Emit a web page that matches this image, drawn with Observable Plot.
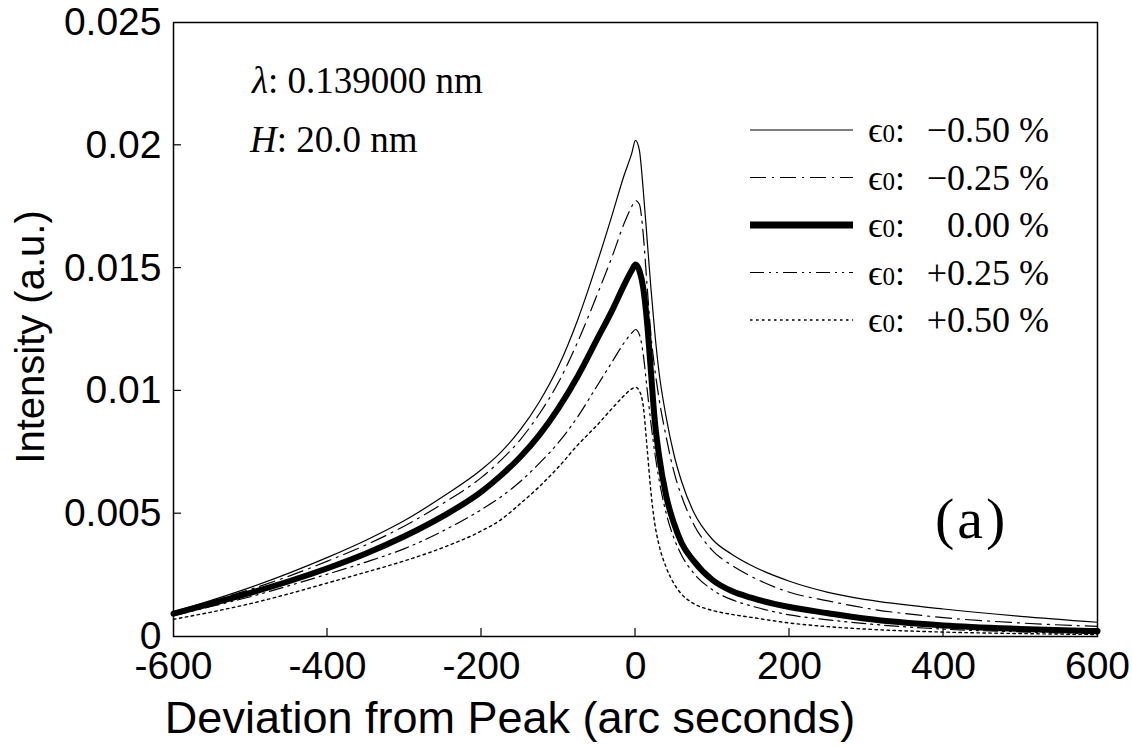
<!DOCTYPE html>
<html><head><meta charset="utf-8">
<script src="https://cdn.jsdelivr.net/npm/d3@7"></script>
<script src="https://cdn.jsdelivr.net/npm/@observablehq/plot@0.6"></script>
<style>body{margin:0;background:#fff} svg{display:block}</style>
</head><body><div id="chart"></div>
<script>
// Deviation from peak (arc seconds)
const deviation = [-600,-550,-500,-450,-400,-350,-300,-250,-200,-175,-150,-125,-100,-75,-50,-30,-15,-5,0,5,10,15,20,25,30,40,50,60,75,100,125,150,200,250,300,400,500,600];
// Intensity (a.u.) for each strain ε0
const strainM050 = [0.00100,0.00148,0.00200,0.00258,0.00322,0.00392,0.00472,0.00570,0.00680,0.00750,0.00840,0.00955,0.01100,0.01290,0.01520,0.01720,0.01876,0.01966,0.02020,0.01980,0.01820,0.01620,0.01420,0.01240,0.01090,0.00890,0.00740,0.00630,0.00510,0.00395,0.00335,0.00290,0.00225,0.00180,0.00150,0.00112,0.00082,0.00058];
const strainM025 = [0.00098,0.00144,0.00192,0.00246,0.00307,0.00373,0.00450,0.00542,0.00648,0.00717,0.00800,0.00906,0.01035,0.01200,0.01390,0.01550,0.01680,0.01750,0.01775,0.01760,0.01640,0.01430,0.01230,0.01090,0.00980,0.00810,0.00670,0.00570,0.00460,0.00350,0.00290,0.00245,0.00180,0.00145,0.00115,0.00077,0.00055,0.00041];
const strainP000 = [0.00093,0.00135,0.00178,0.00225,0.00278,0.00338,0.00408,0.00490,0.00590,0.00655,0.00730,0.00820,0.00930,0.01060,0.01210,0.01330,0.01430,0.01490,0.01515,0.01490,0.01420,0.01280,0.01080,0.00880,0.00750,0.00570,0.00460,0.00380,0.00310,0.00230,0.00185,0.00158,0.00120,0.00095,0.00072,0.00045,0.00031,0.00022];
const strainP025 = [0.00085,0.00123,0.00162,0.00207,0.00254,0.00303,0.00358,0.00430,0.00517,0.00568,0.00630,0.00705,0.00790,0.00895,0.01020,0.01120,0.01195,0.01235,0.01250,0.01230,0.01150,0.01010,0.00870,0.00750,0.00650,0.00500,0.00400,0.00330,0.00260,0.00190,0.00150,0.00125,0.00088,0.00068,0.00052,0.00030,0.00019,0.00012];
const strainP050 = [0.00070,0.00100,0.00134,0.00174,0.00218,0.00262,0.00308,0.00362,0.00430,0.00475,0.00540,0.00610,0.00690,0.00780,0.00860,0.00930,0.00980,0.01008,0.01015,0.01000,0.00940,0.00770,0.00590,0.00460,0.00380,0.00280,0.00215,0.00172,0.00135,0.00106,0.00090,0.00078,0.00055,0.00040,0.00030,0.00018,0.00012,0.00008];

const seriesNames = ["−0.50", "−0.25", "0.00", "+0.25", "+0.50"];
const seriesValues = [strainM050, strainM025, strainP000, strainP025, strainP050];
const xTicks = [-600, -400, -200, 0, 200, 400, 600];
const xTickLabels = ["-600", "-400", "-200", "0", "200", "400", "600"];
const yTicks = [0, 0.005, 0.01, 0.015, 0.02, 0.025];
const yTickLabels = ["0", "0.005", "0.01", "0.015", "0.02", "0.025"];
const xTitle = "Deviation from Peak (arc seconds)";
const yTitle = "Intensity (a.u.)";

const lineStyles = [
  {strokeWidth: 1.2, strokeDasharray: null},
  {strokeWidth: 1.2, strokeDasharray: "16,6,2,6"},
  {strokeWidth: 6, strokeDasharray: null},
  {strokeWidth: 1.2, strokeDasharray: "14,5,2,5,2,5"},
  {strokeWidth: 1.4, strokeDasharray: "2.5,3.5"}
];

const rows = seriesNames.flatMap((s, i) => deviation.map((x, j) => ({x, y: seriesValues[i][j], s})));

const W = 1132, H = 747;
const sans = "'Liberation Sans', Arial, Helvetica, sans-serif";
const serif = "'Liberation Serif', 'Times New Roman', Times, serif";

const plot = Plot.plot({
  width: W, height: H,
  marginLeft: 173, marginRight: 35, marginTop: 22, marginBottom: 111,
  style: {fontFamily: sans, fontSize: "39px", color: "black", background: "white"},
  x: {domain: [-600, 600]},
  y: {domain: [0, 0.025]},
  marks: [
    ...seriesNames.map((s, i) => Plot.line(rows.filter(d => d.s === s), {
      x: "x", y: "y", stroke: "black", curve: "monotone-x",
      strokeWidth: lineStyles[i].strokeWidth,
      strokeDasharray: lineStyles[i].strokeDasharray
    })),
    Plot.frame({stroke: "black", strokeWidth: 1.5}),
    Plot.axisX({ticks: xTicks, tickSize: 0, tickPadding: 15, label: null,
      tickFormat: d => xTickLabels[xTicks.indexOf(d)]}),
    Plot.axisY({ticks: yTicks, tickSize: 0, tickPadding: 12, label: null,
      tickFormat: d => yTickLabels[yTicks.indexOf(d)]})
  ]
});
document.getElementById("chart").appendChild(plot);

// inward ticks, titles, annotations and legend
const svg = d3.select(plot);
const sx = plot.scale("x"), sy = plot.scale("y");
const x0 = sx.apply(-600), y0 = sy.apply(0);
const g = svg.append("g").attr("stroke", "black").attr("stroke-width", 1.2);
xTicks.slice(1, -1).forEach(t => g.append("line")
  .attr("x1", sx.apply(t)).attr("x2", sx.apply(t)).attr("y1", y0).attr("y2", y0 - 8));
yTicks.slice(1, -1).forEach(t => g.append("line")
  .attr("x1", x0).attr("x2", x0 + 8).attr("y1", sy.apply(t)).attr("y2", sy.apply(t)));

const titles = svg.append("g").attr("font-family", sans).attr("fill", "black").attr("text-anchor", "middle");
titles.append("text").attr("x", 510).attr("y", 733).attr("font-size", 45).text(xTitle);
titles.append("text").attr("transform", "translate(44,337) rotate(-90)").attr("font-size", 40).text(yTitle);

const ann = svg.append("g").attr("font-family", serif).attr("font-size", 37)
  .attr("fill", "black").attr("text-anchor", "start");
const t1 = ann.append("text").attr("x", 252).attr("y", 93);
t1.append("tspan").attr("font-style", "italic").text("λ");
t1.append("tspan").text(": 0.139000 nm");
const t2 = ann.append("text").attr("x", 250).attr("y", 152);
t2.append("tspan").attr("font-style", "italic").text("H");
t2.append("tspan").text(": 20.0 nm");
ann.append("text").attr("x", 935).attr("y", 538).attr("font-size", 58)
  .attr("letter-spacing", 3).text("(a)");

const leg = svg.append("g").attr("font-family", serif).attr("font-size", 36).attr("text-anchor", "start");
seriesNames.forEach((s, i) => {
  const yy = 130 + i * 47.5;
  leg.append("line").attr("x1", 750).attr("x2", 853).attr("y1", yy).attr("y2", yy)
    .attr("stroke", "black").attr("stroke-width", i === 2 ? 7 : lineStyles[i].strokeWidth)
    .attr("stroke-dasharray", lineStyles[i].strokeDasharray);
  const tx = leg.append("text").attr("x", 868).attr("y", yy + 12);
  tx.append("tspan").text("ϵ");
  tx.append("tspan").attr("font-size", 25).text("0");
  tx.append("tspan").text(":");
  leg.append("text").attr("x", 1049).attr("y", yy + 12).attr("text-anchor", "end").text(s + " %");
});
</script>
</body></html>
